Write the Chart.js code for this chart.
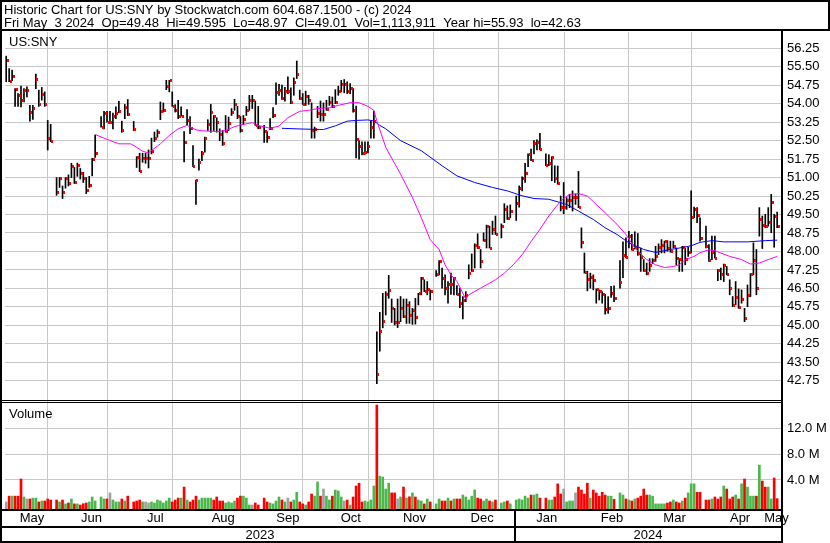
<!DOCTYPE html>
<html>
<head>
<meta charset="utf-8">
<title>Historic Chart for US:SNY</title>
<script src="https://cdn.jsdelivr.net/npm/chart.js@4.4.1/dist/chart.umd.min.js"></script>
<style>
  body { margin: 0; background: #fff; }
  canvas { display: block; }
</style>
</head>
<body>
<canvas id="chart" width="830" height="543"></canvas>
<script>
// one slot per weekday, May 5 2023 .. May 3 2024 (null = market holiday)
const highs = [
  55.93, 55.43, 55.36, 54.61, 54.41, 54.71, 54.61, 54.68, 53.93, 53.93,
  55.2, 54.55, 54.66, 54.48, 53.32, 53.16, null, 51.0, 51.0, 50.66,
  51.0, 51.11, 51.58, 51.41, 51.59, 51.37, 51.21, 51.0, 51.05, 51.78,
  52.73, null, 53.48, 53.69, 53.69, 53.69, 53.62, 53.87, 54.1, 53.29,
  53.97, 54.17, null, 53.28, 51.85, 51.99, 51.99, 51.99, 52.12, 52.6,
  52.85, 52.94, 54.07, 54.03, 54.95, 54.95, 54.48, 53.96, 54.14, 53.87,
  52.87, 53.76, 53.48, 52.3, 50.9, 51.75, 52.07, 52.64, 53.35, 53.97,
  53.52, 53.43, 52.98, 52.91, 53.52, 53.46, 53.8, 54.18, 53.89, 53.48,
  53.52, 53.89, 54.34, 54.34, 54.11, 53.89, null, 53.12, 52.87, 53.39,
  53.84, 54.85, 54.79, 54.75, 54.66, 55.09, 54.64, 55.05, 55.73, 54.55,
  54.41, 54.51, 54.34, 54.03, 53.05, 53.89, 54.11, 54.03, 54.14, 54.3,
  54.27, 54.57, 54.71, 54.95, 54.98, 54.89, 54.82, 54.61, 53.9, 52.5,
  52.45, 52.45, 52.45, 53.3, 53.7, 44.74, 45.53, 46.3, 46.37, 47.03,
  46.07, 45.69, 46.07, 46.17, 46.07, 46.07, 45.96, 45.69, 46.1, 46.3,
  46.95, 46.85, 46.78, 46.44, null, 47.22, 47.63, 47.33, 47.05, 46.78,
  47.12, 46.95, 46.62, 46.51, 46.17, 46.37, 47.46, 47.9, 48.31, 48.72,
  48.08, 48.76, 49.07, 49.03, 49.23, 49.44, null, 49.12, 49.94, 49.85,
  49.89, null, 50.25, 50.66, 51.03, 51.58, 51.96, 52.16, 52.5, 52.53,
  52.8, null, 51.96, 51.93, 51.85, 51.48, 51.47, 50.25, 50.8, 50.19,
  50.32, 50.46, 50.32, 51.25, 48.96, 47.94, 47.2, 47.12, 47.05, 46.48,
  46.44, 46.37, 46.26, 46.17, 46.58, 46.6, null, 47.63, 48.39, 48.55,
  48.82, 48.7, 48.8, 48.73, 48.14, 47.67, 47.53, 47.71, 47.71, 48.21,
  48.31, 48.48, 48.42, 48.44, 48.42, 48.42, 48.14, 47.71, 48.21, 48.14,
  48.17, 50.46, 49.8, 49.78, 49.37, null, 49.03, 48.28, 48.62, 48.62,
  47.26, 47.33, 47.49, 47.39, 46.85, 46.17, 46.78, 46.48, 46.44, 45.69,
  46.64, 47.1, 48.35, 48.08, 49.78, 49.44, 49.51, 49.78, 50.32, 49.51,
  49.595
];
const lows = [
  54.89, 54.89, 54.93, 53.89, 53.89, 53.87, 54.07, 54.27, 53.29, 53.36,
  54.61, 53.89, 54.14, 53.89, 52.12, 52.46, null, 50.28, 50.6, 50.15,
  50.57, 50.66, 51.0, 50.76, 51.05, 50.94, 50.8, 50.35, 50.6, 51.07,
  51.82, null, 53.05, 52.98, 53.25, 53.21, 52.98, 53.39, 53.62, 52.84,
  53.39, 53.52, null, 52.91, 51.41, 51.24, 51.62, 51.58, 51.39, 51.96,
  52.46, 52.64, 53.35, 53.66, 54.57, 54.48, 53.89, 53.66, 53.39, 53.49,
  51.64, 53.14, 52.78, 51.44, 49.91, 51.3, 51.69, 52.03, 52.91, 52.84,
  52.91, 52.84, 52.5, 52.3, 52.84, 52.91, 53.52, 53.73, 53.39, 52.84,
  53.16, 53.52, 53.73, 53.8, 53.12, 52.98, null, 52.43, 52.43, 52.94,
  53.43, 53.97, 54.34, 54.17, 54.1, 54.41, 54.0, 54.34, 55.02, 54.17,
  53.97, 53.93, 53.97, 52.6, 52.6, 53.43, 53.29, 53.29, 53.73, 53.93,
  53.84, 54.0, 54.34, 54.48, 54.44, 54.41, 54.41, 53.66, 51.8, 51.75,
  51.92, 51.95, 52.0, 52.6, 52.6, 42.63, 43.95, 44.9, 45.42, 46.1,
  45.12, 45.01, 44.91, 45.15, 45.31, 45.08, 45.08, 45.04, 45.05, 45.83,
  46.24, 46.37, 46.24, 46.03, null, 46.99, 47.05, 46.51, 46.24, 45.9,
  46.26, 46.24, 46.24, 45.72, 45.26, 45.96, 46.89, 47.19, 47.33, 48.12,
  47.33, 48.42, 48.14, 48.14, 48.69, 48.69, null, 48.55, 49.17, 49.3,
  49.37, null, 49.26, 49.8, 50.46, 50.8, 51.44, 51.69, 51.96, 52.12,
  52.12, null, 51.48, 51.48, 50.87, 50.8, 50.73, 49.64, 49.53, 49.71,
  49.78, 49.64, 49.91, 49.78, 48.14, 47.12, 46.4, 46.51, 46.44, 45.9,
  46.03, 45.9, 45.45, 45.49, 46.13, 45.96, null, 46.51, 46.94, 47.74,
  48.14, 48.05, 48.1, 47.84, 47.19, 47.19, 47.05, 47.19, 47.5, 47.6,
  47.87, 47.94, 47.94, 48.01, 47.97, 48.14, 47.46, 47.19, 47.19, 47.46,
  47.8, 47.94, 49.37, 49.17, 48.42, null, 48.14, 47.6, 47.67, 47.73,
  46.81, 46.85, 46.78, 47.05, 46.24, 45.76, 45.83, 45.69, 45.9, 45.15,
  45.76, 46.17, 47.05, 46.24, 48.62, 48.12, 48.96, 49.03, 48.76, 48.17,
  48.97
];
const closes = [
  55.75, 54.89, 55.09, 54.57, 54.34, 54.11, 54.52, 54.52, 53.66, 53.82,
  55.0, 53.95, 54.36, 53.95, 52.57, 52.48, null, 50.39, 50.96, 50.39,
  50.96, 50.76, 51.44, 50.8, 51.48, 51.17, 50.96, 50.46, 50.66, 51.75,
  51.99, null, 53.05, 53.62, 53.25, 53.25, 53.46, 53.62, 53.69, 52.91,
  53.84, 53.57, null, 52.97, 51.82, 51.24, 51.78, 51.78, 51.78, 52.05,
  52.6, 52.85, 53.69, 53.73, 54.68, 54.93, 53.89, 53.73, 53.46, 53.49,
  52.43, 53.32, 53.0, 51.44, 50.87, 51.62, 51.99, 52.6, 53.16, 53.66,
  53.48, 53.25, 52.75, 52.4, 52.89, 53.21, 53.66, 53.97, 53.46, 52.91,
  53.36, 53.73, 54.11, 54.11, 53.12, 53.05, null, 52.89, 52.64, 53.0,
  53.54, 54.44, 54.52, 54.21, 54.5, 54.5, 54.03, 54.85, 55.17, 54.23,
  53.97, 54.3, 54.11, 52.91, 52.97, 53.62, 53.55, 53.55, 53.77, 54.03,
  53.87, 54.03, 54.48, 54.78, 54.78, 54.5, 54.6, 53.73, 52.54, 52.27,
  51.99, 52.03, 52.27, 53.05, 53.28, 42.99, 44.77, 45.17, 46.24, 46.43,
  45.69, 45.12, 45.12, 45.69, 45.35, 45.8, 45.42, 45.62, 45.31, 46.28,
  46.92, 46.37, 46.44, 46.37, null, 47.08, 47.6, 46.89, 46.51, 46.67,
  46.65, 46.92, 46.26, 45.9, 45.99, 46.21, 47.1, 47.23, 48.25, 48.17,
  47.6, 48.46, 49.03, 48.14, 48.89, 48.69, null, 49.03, 49.71, 49.34,
  49.64, null, 49.94, 50.55, 50.96, 51.17, 51.93, 51.69, 52.37, 52.43,
  52.13, null, 51.48, 51.58, 51.82, 50.96, 50.76, 49.8, 49.8, 50.05,
  50.08, 50.19, 50.19, 49.8, 48.35, 47.16, 46.88, 46.96, 46.82, 46.47,
  46.37, 46.26, 45.66, 45.69, 46.3, 46.1, null, 46.74, 47.84, 47.76,
  48.6, 48.1, 48.15, 47.9, 47.76, 47.22, 47.09, 47.42, 47.63, 47.8,
  48.17, 48.25, 48.39, 48.12, 48.01, 48.21, 47.73, 47.67, 48.17, 47.67,
  47.97, 49.37, 49.71, 49.47, 48.51, null, 48.21, 47.63, 47.94, 47.73,
  47.22, 47.08, 47.43, 47.05, 46.51, 45.8, 46.13, 45.72, 46.03, 45.28,
  46.2, 47.08, 47.63, 46.51, 49.3, 49.07, 49.0, 49.17, 49.98, 49.4,
  49.01
];
// daily volume, millions of shares
const volumes = [
  0.6, 1.5, 1.5, 1.5, 1.5, 4.15, 1.37, 1.06, 1.06, 1.2,
  1.2, 0.6, 0.75, 0.75, 1.06, 0.9, null, 0.9, 0.6, 0.9,
  0.3, 0.44, 1.06, 0.3, 0.3, 0.13, 0.33, 0.44, 0.6, 1.37,
  0.75, null, 1.37, 1.06, 1.06, 2.0, 0.9, 0.6, 0.6, 1.06,
  0.75, 1.5, null, 0.6, 0.75, 0.9, 0.6, 0.6, 0.44, 0.6,
  0.44, 0.9, 0.75, 0.44, 0.75, 1.2, 0.6, 0.9, 1.2, 1.2,
  2.9, 0.9, 0.6, 0.9, 1.5, 0.9, 1.2, 1.2, 1.2, 1.2,
  0.9, 1.37, 0.75, 0.75, 0.44, 0.6, 0.44, 0.75, 1.2, 1.5,
  1.5, 1.2, 0.13, 0.13, 0.44, 0.13, null, 1.2, 0.6, 0.44,
  0.3, 0.75, 1.37, 0.9, 0.6, 1.2, 0.6, 0.9, 2.1, 0.6,
  0.3, 0.13, 0.6, 1.83, 1.5, 3.7, 1.5, 2.6, 1.5, 0.9,
  1.5, 2.45, 2.3, 1.37, 0.75, 0.9, 0.13, 1.37, 3.07, 3.5,
  0.6, 0.75, 0.6, 0.9, 3.07, 15.6, 4.6, 4.46, 2.6, 3.5,
  2.0, 2.0, 1.06, 1.37, 2.9, 1.2, 1.4, 2.0, 1.37, 0.9,
  0.75, 0.3, 1.06, 0.6, null, 0.3, 1.06, 0.75, 0.75, 1.2,
  0.75, 1.06, 1.06, 1.06, 1.67, 1.37, 0.9, 1.5, 2.45, 1.2,
  1.06, 0.75, 1.06, 0.75, 0.6, 0.9, null, 0.44, 0.6, 0.75,
  0.3, null, 0.9, 1.06, 0.9, 1.5, 1.2, 1.67, 1.67, 1.83,
  1.2, null, 1.2, 0.9, 0.9, 1.37, 3.4, 1.83, 2.6, 0.6,
  0.75, 0.75, 2.0, 2.9, 2.45, 1.83, 3.5, 1.2, 2.45, 2.0,
  1.5, 2.1, 1.67, 1.5, 1.5, 1.0, null, 2.0, 1.67, 1.06,
  0.9, 0.75, 1.06, 1.2, 1.5, 2.6, 1.67, 1.67, 1.5, 0.3,
  0.3, 0.3, 0.3, 0.44, 0.6, 0.9, 0.6, 0.44, 0.75, 1.2,
  2.0, 3.4, 3.4, 2.1, 2.1, null, 0.9, 0.9, 1.06, 1.37,
  1.06, 1.37, 3.07, 2.6, 1.06, 1.37, 1.67, 1.06, 3.4, 4.15,
  2.9, 1.5, 1.5, 1.5, 6.3, 3.84, 2.9, 2.9, 1.06, 4.3,
  1.11
];
// moving averages: [weekday index, value]
const maPink = [
  [30, 52.75], [33, 52.6], [36, 52.46], [38, 52.37], [42, 52.37], [44, 52.23], [46, 52.07],
  [48, 52.0], [49, 52.1], [52, 52.37], [55, 52.71], [58, 52.98], [61, 53.12], [62, 53.05],
  [64, 52.94], [66, 52.9], [71, 52.87], [74, 52.91], [77, 53.07], [80, 53.16], [83, 53.23],
  [85, 53.12], [89, 53.0], [92, 53.09], [95, 53.43], [99, 53.69], [102, 53.73], [105, 53.8],
  [109, 53.84], [112, 53.93], [116, 54.04], [119, 54.04], [122, 53.89], [124, 53.73],
  [125, 53.3], [128, 52.23], [133, 51.14], [137, 50.19], [140, 49.37], [143, 48.48],
  [146, 48.08], [148, 47.46], [150, 47.05], [152, 46.78], [155, 46.07], [156, 46.24],
  [160, 46.51], [165, 46.85], [168, 47.12], [171, 47.46], [174, 47.87], [177, 48.4],
  [180, 48.9], [183, 49.44], [187, 50.05], [190, 50.32], [193, 50.35], [196, 50.25],
  [199, 49.91], [202, 49.57], [206, 49.1], [209, 48.69], [212, 48.14], [216, 47.67],
  [219, 47.46], [222, 47.35], [225, 47.39], [227, 47.46], [229, 47.67], [232, 47.8],
  [234, 47.95], [237, 48.07], [239, 48.03], [244, 47.8], [248, 47.67], [251, 47.49],
  [254, 47.53], [257, 47.67], [260, 47.8]
];
const maBlue = [
  [93, 53.0], [100, 52.97], [107, 52.95], [111, 53.1], [115, 53.29], [118, 53.32],
  [122, 53.34], [124, 53.3], [126, 53.12], [128, 52.98], [133, 52.5], [140, 52.09],
  [147, 51.48], [152, 51.07], [158, 50.8], [164, 50.6], [169, 50.46], [174, 50.26],
  [178, 50.15], [183, 50.12], [189, 49.91], [193, 49.64], [198, 49.3], [202, 48.96],
  [206, 48.69], [210, 48.35], [215, 48.08], [219, 47.96], [221, 48.01], [224, 48.08],
  [227, 48.14], [231, 48.23], [234, 48.37], [238, 48.44], [242, 48.39], [250, 48.39],
  [256, 48.44], [260, 48.46]
];
const monthStarts = [18.9, 39.7, 62, 85, 105.1, 128.2, 150.3, 171.5, 194.2, 215.3, 236.5];
const monthMids = [8.7, 28.8, 50.3, 73.2, 95, 116.2, 137.7, 160.5, 182.3, 204.3, 225.4, 247.5, 259.8];
const monthLabels = ['May', 'Jun', 'Jul', 'Aug', 'Sep', 'Oct', 'Nov', 'Dec', 'Jan', 'Feb', 'Mar', 'Apr', 'May'];
const yearLabels = ['2023', '2024'];
const priceTicks = [42.75, 43.5, 44.25, 45, 45.75, 46.5, 47.25, 48, 48.75, 49.5, 50.25, 51,
  51.75, 52.5, 53.25, 54, 54.75, 55.5, 56.25];
const volumeTicks = [4, 8, 12];

const titleLine1 = 'Historic Chart for US:SNY by Stockwatch.com 604.687.1500 - (c) 2024';
const titleLine2 = 'Fri May  3 2024  Op=49.48  Hi=49.595  Lo=48.97  Cl=49.01  Vol=1,113,911  Year hi=55.93  lo=42.63';

const FONT = 'Arial, "Liberation Sans", sans-serif';
const GRID = '#c8c8c8';

let hlData = [], closeData = [], volData = [], volColors = [];
let prev = null;
highs.forEach((h, i) => {
  if (h === null) return;
  hlData.push({ x: i, y: [lows[i], h] });
  closeData.push({ x: i, y: closes[i] });
  volData.push({ x: i, y: volumes[i] });
  let c = '#a0a0a0';
  if (prev !== null && closes[i] > prev) c = '#4cb84c';
  if (prev !== null && closes[i] < prev) c = '#ff0000';
  volColors.push(c);
  prev = closes[i];
});

// red close tick sitting just right of each bar
const closeTick = document.createElement('canvas');
closeTick.width = 5;
closeTick.height = 3;
let tctx = closeTick.getContext('2d');
tctx.fillStyle = '#ff0000';
tctx.fillRect(3, 0, 2, 3);

const crisp = {
  id: 'crisp',
  beforeDraw(chart) { chart.ctx.imageSmoothingEnabled = false; }
};

const frame = {
  id: 'frame',
  afterDraw(chart) {
    const { ctx, chartArea: a, scales } = chart;
    const right = Math.round(a.right);
    ctx.save();
    ctx.fillStyle = '#000';
    ctx.font = '13px ' + FONT;
    ctx.textAlign = 'left';
    ctx.textBaseline = 'alphabetic';
    ctx.fillText(titleLine1, 4, 14);
    ctx.fillText(titleLine2, 4, 27);
    ctx.fillText('US:SNY', 9, 46);
    ctx.fillText('Volume', 9, 418);

    // borders
    ctx.fillRect(0, 0, 830, 2);
    ctx.fillRect(828, 0, 2, 31);
    ctx.fillRect(0, 29, 830, 2);
    ctx.fillRect(0, 0, 2, 543);
    ctx.fillRect(right, 29, 2, 514);
    let sep = Math.round(scales.volume.top);
    ctx.fillRect(0, sep, right, 1);
    ctx.fillRect(0, sep + 2, right, 1);
    ctx.fillRect(0, Math.round(a.bottom), right, 2);
    ctx.fillRect(0, 526, right, 2);
    ctx.fillRect(0, 541, right, 2);
    let jan = Math.round(scales.x.getPixelForValue(monthStarts[7]));
    ctx.fillRect(jan - 1, Math.round(a.bottom), 2, 543 - a.bottom);

    ctx.textAlign = 'center';
    ctx.fillText(yearLabels[0], (a.left + jan) / 2, 539);
    ctx.fillText(yearLabels[1], (jan + right) / 2, 539);
    ctx.restore();
  }
};

const ctx = document.getElementById('chart').getContext('2d');
new Chart(ctx, {
  type: 'bar',
  data: {
    datasets: [
      {
        type: 'line', data: maPink.map(p => ({ x: p[0], y: p[1] })),
        borderColor: '#ff00ff', borderWidth: 1, pointRadius: 0, yAxisID: 'price'
      },
      {
        type: 'line', data: maBlue.map(p => ({ x: p[0], y: p[1] })),
        borderColor: '#0000ff', borderWidth: 1, pointRadius: 0, yAxisID: 'price'
      },
      {
        type: 'line', data: closeData, showLine: false,
        pointStyle: closeTick, pointRadius: 2, yAxisID: 'price'
      },
      {
        type: 'bar', data: hlData, backgroundColor: '#000',
        barThickness: 1, grouped: false, yAxisID: 'price'
      },
      {
        type: 'bar', data: volData, backgroundColor: volColors,
        barThickness: 2, grouped: false, base: -0.49, yAxisID: 'volume'
      }
    ]
  },
  options: {
    responsive: false,
    animation: false,
    events: [],
    layout: { padding: { left: 2, top: 32, right: 0, bottom: 16 } },
    plugins: { legend: { display: false }, tooltip: { enabled: false } },
    scales: {
      x: {
        type: 'linear', min: -0.4, max: 261.3, offset: false,
        afterBuildTicks: s => {
          s.ticks = monthStarts.concat(monthMids).sort((p, q) => p - q).map(v => ({ value: v }));
        },
        afterFit: s => { s.height = 18; },
        ticks: {
          autoSkip: false, maxRotation: 0, padding: 2, color: '#000',
          font: { family: FONT, size: 13 },
          callback: v => {
            let k = monthMids.indexOf(v);
            return k >= 0 ? monthLabels[k] : '';
          }
        },
        grid: {
          drawTicks: false,
          color: c => (c.tick && monthStarts.includes(c.tick.value)) ? GRID : 'rgba(0,0,0,0)'
        },
        border: { display: false }
      },
      price: {
        type: 'linear', position: 'right', stack: 'panels', stackWeight: 368,
        min: 41.97, max: 56.91,
        afterBuildTicks: s => { s.ticks = priceTicks.map(v => ({ value: v })); },
        afterFit: s => { s.width = 49; },
        ticks: {
          autoSkip: false, padding: 6, color: '#000',
          font: { family: FONT, size: 13 },
          callback: v => v.toFixed(2)
        },
        grid: { drawTicks: false, color: GRID },
        border: { display: false }
      },
      volume: {
        type: 'linear', position: 'right', stack: 'panels', stackWeight: 109,
        min: -0.49, max: 16.38,
        afterBuildTicks: s => { s.ticks = volumeTicks.map(v => ({ value: v })); },
        afterFit: s => { s.width = 49; },
        ticks: {
          autoSkip: false, padding: 6, color: '#000',
          font: { family: FONT, size: 13 },
          callback: v => v.toFixed(1) + ' M'
        },
        grid: { drawTicks: false, color: GRID },
        border: { display: false }
      }
    }
  },
  plugins: [crisp, frame]
});
</script>
</body>
</html>
